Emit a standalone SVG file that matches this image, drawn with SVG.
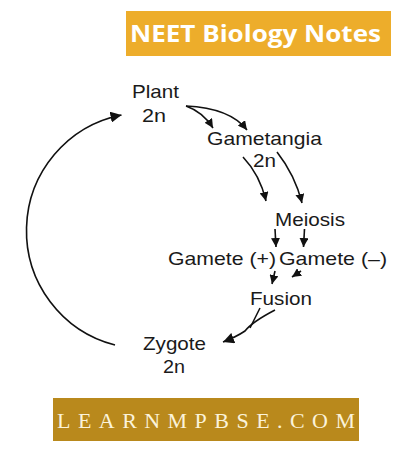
<svg xmlns="http://www.w3.org/2000/svg" width="403" height="453" viewBox="0 0 403 453">
<style>
.lbl{font-family:"Liberation Sans",Arial,sans-serif;font-size:19px;fill:#1a1a1a}
.ln{fill:none;stroke:#111;stroke-width:1.6}
</style>
<defs>
<marker id="ah" viewBox="0 0 10 10" refX="10" refY="5" markerWidth="9" markerHeight="9" markerUnits="userSpaceOnUse" orient="auto">
<path d="M0,0 L10,5 L0,10 Z" fill="#111"/>
</marker>
<marker id="ahb" viewBox="0 0 10 10" refX="10" refY="5" markerWidth="11" markerHeight="11" markerUnits="userSpaceOnUse" orient="auto">
<path d="M0,0 L10,5 L0,10 Z" fill="#111"/>
</marker>
</defs>
<rect width="403" height="453" fill="#fff"/>
<g id="banner-top">
<rect x="126" y="11" width="265" height="45" fill="#EDAD2B"/>
<text x="130" y="42" textLength="251" lengthAdjust="spacingAndGlyphs" style="font-family:'Open Sans','Liberation Sans',sans-serif;font-weight:bold;font-size:23px;fill:#fff">NEET Biology Notes</text>
</g>
<g id="banner-bottom">
<rect x="53" y="398" width="306" height="43" fill="#B9891C"/>
<text x="57" y="427.5" textLength="298" lengthAdjust="spacing" style="font-family:'Liberation Serif','Times New Roman',serif;font-size:22px;fill:#FBF3DA">LEARNMPBSE.COM</text>
</g>
<g id="plant">
<text class="lbl" x="132" y="98" textLength="47" lengthAdjust="spacingAndGlyphs">Plant</text>
<text class="lbl" x="142" y="121.5" textLength="24" lengthAdjust="spacingAndGlyphs">2n</text>
</g>
<g id="gametangia">
<text class="lbl" x="207" y="145" textLength="115" lengthAdjust="spacingAndGlyphs">Gametangia</text>
<text class="lbl" x="253" y="166.5" textLength="23" lengthAdjust="spacingAndGlyphs">2n</text>
</g>
<g id="meiosis">
<text class="lbl" x="275" y="226" textLength="70" lengthAdjust="spacingAndGlyphs">Meiosis</text>
</g>
<g id="gamete-plus">
<text class="lbl" x="168" y="265" textLength="108" lengthAdjust="spacingAndGlyphs">Gamete (+)</text>
</g>
<g id="gamete-minus">
<text class="lbl" x="279" y="265" textLength="108" lengthAdjust="spacingAndGlyphs">Gamete (–)</text>
</g>
<g id="fusion">
<text class="lbl" x="250" y="305" textLength="62" lengthAdjust="spacingAndGlyphs">Fusion</text>
</g>
<g id="zygote">
<text class="lbl" x="143" y="350" textLength="63" lengthAdjust="spacingAndGlyphs">Zygote</text>
<text class="lbl" x="163" y="373" textLength="22" lengthAdjust="spacingAndGlyphs">2n</text>
</g>
<g id="connectors">
<path class="ln" d="M115,345 A118,118 0 0 1 121.5,115" marker-end="url(#ahb)"/>
<path class="ln" d="M186,106 Q203,112 213,128" marker-end="url(#ah)"/>
<path class="ln" d="M186,106 Q230,108 247,130" marker-end="url(#ah)"/>
<path class="ln" d="M243,157 Q260,175 266,201" marker-end="url(#ah)"/>
<path class="ln" d="M277,152 Q295,175 302,203" marker-end="url(#ah)"/>
<path class="ln" d="M275,229 L276,247" marker-end="url(#ah)"/>
<path class="ln" d="M304.5,229 L303.5,247" marker-end="url(#ah)"/>
<path class="ln" d="M275,271 L272,284" marker-end="url(#ah)"/>
<path class="ln" d="M301,271 L292,277" marker-end="url(#ah)"/>
<path class="ln" d="M260,308 L250,328"/>
<path class="ln" d="M275,310 Q252,322 245,331 Q236,337 223,342" marker-end="url(#ahb)"/>
</g>
</svg>
